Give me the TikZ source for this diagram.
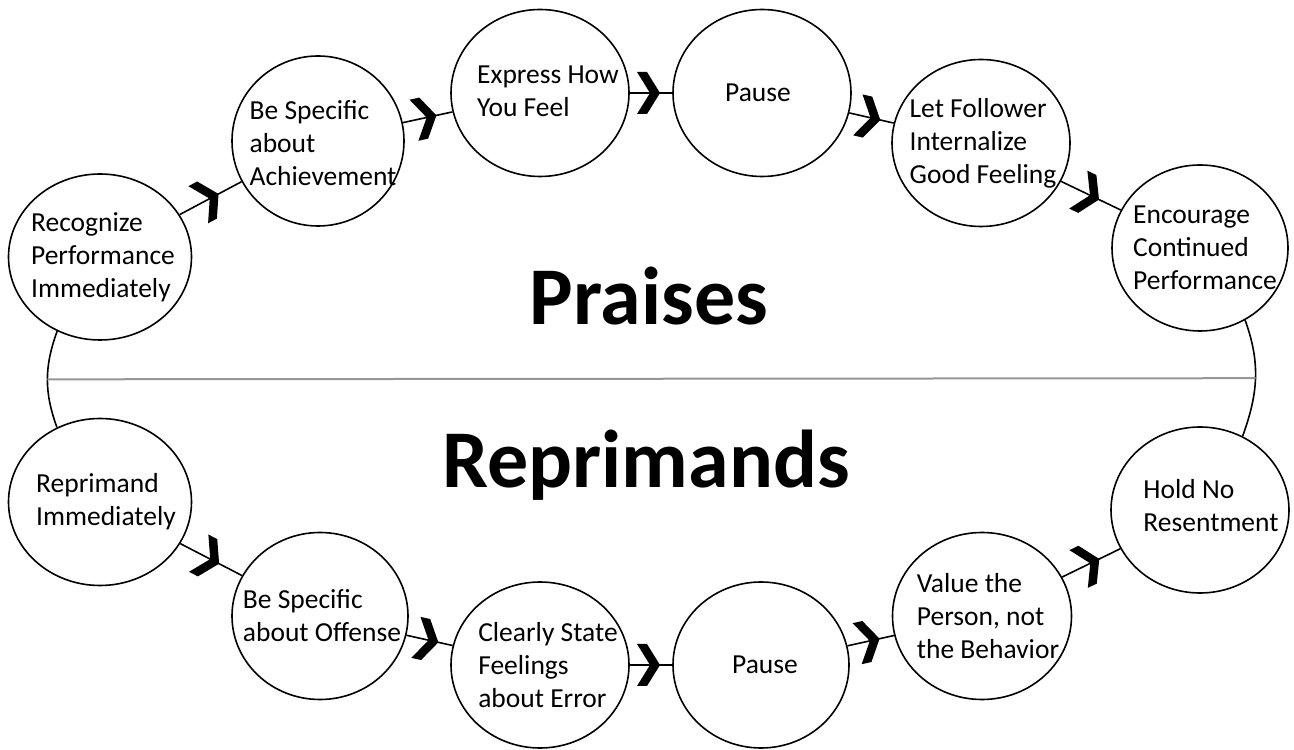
\documentclass[tikz,border=0pt]{standalone}
\usepackage{fontspec}
\setmainfont{Carlito}
\usetikzlibrary{shapes.geometric,decorations.markings}
\definecolor{midgray}{RGB}{150,150,150}
\tikzset{
 bub/.style={ellipse, draw, line width=1.6pt, minimum width=178pt, minimum height=167pt, inner sep=0pt},
 txt/.style={align=left, font=\fontsize{27.5}{33}\selectfont, inner sep=0pt},
 conn/.style={line width=1.6pt},
 chev/.style={postaction={decorate}, decoration={markings, mark=at position 0.5 with {\fill (-14pt,21pt) -- (-4pt,21pt) -- (9pt,0pt) -- (-4pt,-21pt) -- (-14pt,-21pt) -- (-1pt,0pt) -- cycle;}}},
 bigword/.style={font=\fontsize{82}{90}\selectfont\bfseries, anchor=base, inner sep=0pt},
 midline/.style={line width=2pt, draw=midgray}
}
\begin{document}
\begin{tikzpicture}[x=1pt,y=1pt]
\useasboundingbox (0,0) rectangle (1294,750);
% top row
\node[bub, minimum width=183pt, minimum height=166pt] (c1) at (100,493) {};
\node[bub, minimum width=172pt, minimum height=170pt] (c2) at (318,609) {};
\node[bub] (c3) at (540,657) {};
\node[bub] (c4) at (762,657) {};
\node[bub] (c5) at (981,607) {};
\node[bub, minimum width=176pt, minimum height=166pt] (c6) at (1200,502) {};
% bottom row
\node[bub, minimum width=183pt, minimum height=167pt] (c7) at (100,248) {};
\node[bub, minimum width=176pt] (c8) at (320,134) {};
\node[bub, minimum height=166pt] (c9) at (540,85) {};
\node[bub, minimum width=176pt, minimum height=166pt] (c10) at (761,85) {};
\node[bub, minimum width=179pt] (c11) at (982,134) {};
\node[bub, minimum height=166pt] (c12) at (1200,240) {};
% texts
\node[txt] (t1) at ([xshift=3pt]c1.center) {Recognize\\Performance\\Immediately};
\node[txt] (t2) at ([xshift=5pt,yshift=-2pt]c2.center) {Be Specific\\about\\Achievement};
\node[txt] (t3) at ([xshift=8pt,yshift=2pt]c3.center) {Express How\\You Feel};
\node[txt] (t4) at ([xshift=-4pt]c4.center) {Pause};
\node[txt] (t5) at ([xshift=2pt]c5.center) {Let Follower\\Internalize\\Good Feeling};
\node[txt] (t6) at ([xshift=5pt]c6.center) {Encourage\\Continued\\Performance};
\node[txt] (t7) at ([xshift=6pt]c7.center) {Reprimand\\Immediately};
\node[txt] (t8) at ([xshift=2pt]c8.center) {Be Specific\\about Offense};
\node[txt] (t9) at ([xshift=8pt]c9.center) {Clearly State\\Feelings\\about Error};
\node[txt] (t10) at ([xshift=4pt]c10.center) {Pause};
\node[txt] (t11) at ([xshift=6pt]c11.center) {Value the\\Person, not\\the Behavior};
\node[txt] (t12) at ([xshift=11pt,yshift=4pt]c12.center) {Hold No\\Resentment};
% connectors with chevrons
\draw[conn, chev] (c1) -- (c2);
\draw[conn, chev] (c2) -- (c3);
\draw[conn, chev] (c3) -- (c4);
\draw[conn, chev] (c4) -- (c5);
\draw[conn, chev] (c5) -- (c6);
\draw[conn, chev] (c7) -- (c8);
\draw[conn, chev] (c8) -- (c9);
\draw[conn, chev] (c9) -- (c10);
\draw[conn, chev] (c10) -- (c11);
\draw[conn, chev] (c11) -- (c12);
% side arcs
\draw[conn] (c1.240) to[out=250,in=110] coordinate[pos=0.5] (L) (c7.120);
\draw[conn] (c6.302) to[out=290,in=70] coordinate[pos=0.5] (R) (c12.60);
\draw[midline] (L) -- (R);
% big words
\node[bigword] (praises) at (649,425) {Praises};
\node[bigword] (reprimands) at (646,262) {Reprimands};
\end{tikzpicture}
\end{document}
